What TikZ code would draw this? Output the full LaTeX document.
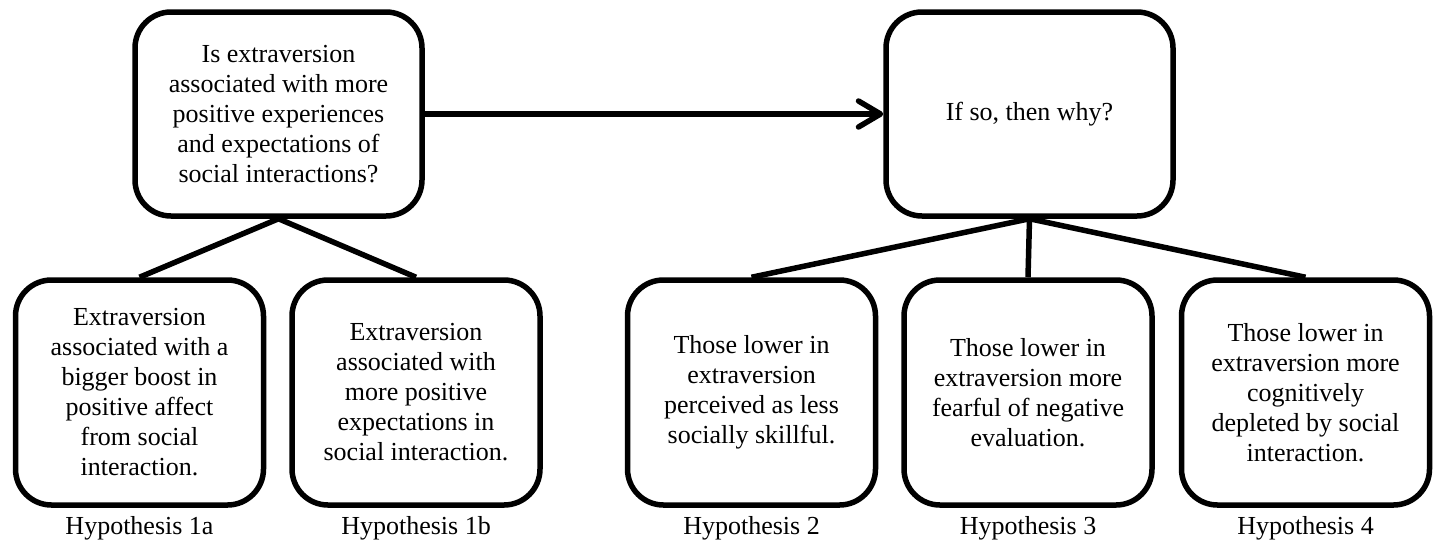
\documentclass[tikz,border=0pt]{standalone}
\usepackage{fontspec}
\setmainfont{Liberation Serif}
\usetikzlibrary{arrows.meta}
\tikzset{
  box/.style={draw, line width=2.75pt, rounded corners=18pt, align=center,
    font=\fontsize{13}{15}\selectfont, inner sep=0pt},
  topbox/.style={box, minimum width=143.5pt, minimum height=102pt},
  lowbox/.style={box, minimum width=124pt, minimum height=112.5pt},
  hyplabel/.style={anchor=base, font=\fontsize{13}{15}\selectfont, inner sep=0pt},
  conn/.style={line width=2.75pt},
  arr/.style={line width=2.75pt, -{Straight Barb[length=11pt,width=13pt,round]}}
}
\begin{document}
\begin{tikzpicture}[x=0.5pt,y=-0.5pt]
\useasboundingbox (0,0) rectangle (1434,542);
\node[topbox] (q1) at (278.5,114) {Is extraversion\\associated with more\\positive experiences\\and expectations of\\social interactions?};
\node[topbox] (q2) at (1029.5,114) {If so, then why?};
\node[lowbox] (h1a) at (139.5,392.5) {Extraversion\\associated with a\\bigger boost in\\positive affect\\from social\\interaction.};
\node[lowbox] (h1b) at (416,392.5) {Extraversion\\associated with\\more positive\\expectations in\\social interaction.};
\node[lowbox] (h2) at (751.5,392.5) {Those lower in\\extraversion\\perceived as less\\socially skillful.};
\node[lowbox] (h3) at (1028,392.5) {Those lower in\\extraversion more\\fearful of negative\\evaluation.};
\node[lowbox] (h4) at (1305.5,392.5) {Those lower in\\extraversion more\\cognitively\\depleted by social\\interaction.};
\node[hyplabel] (l1a) at (139.5,534) {Hypothesis 1a};
\node[hyplabel] (l1b) at (416,534) {Hypothesis 1b};
\node[hyplabel] (l2) at (751.5,534) {Hypothesis 2};
\node[hyplabel] (l3) at (1028,534) {Hypothesis 3};
\node[hyplabel] (l4) at (1305.5,534) {Hypothesis 4};
\draw[arr] (q1.east) -- (q2.west);
\draw[conn] (q1.south) -- (h1a.north);
\draw[conn] (q1.south) -- (h1b.north);
\draw[conn] (q2.south) -- (h2.north);
\draw[conn] (q2.south) -- (h3.north);
\draw[conn] (q2.south) -- (h4.north);
\end{tikzpicture}
\end{document}
